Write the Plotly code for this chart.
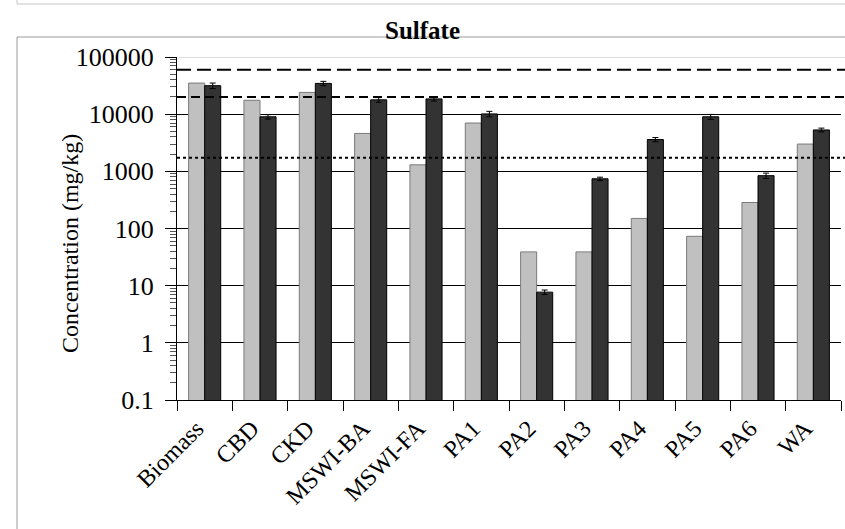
import plotly.graph_objects as go

categories = ["Biomass", "CBD", "CKD", "MSWI-BA", "MSWI-FA", "PA1",
              "PA2", "PA3", "PA4", "PA5", "PA6", "WA"]
light_values = [35000, 17500, 24000, 4600, 1300, 7000, 39, 39, 150, 73, 285, 3000]
dark_values = [31500, 9000, 34500, 17800, 18500, 10100, 7.7, 740, 3600, 9000, 840, 5300]
dark_errors = [3500, 800, 3000, 1700, 1500, 1100, 0.7, 50, 300, 900, 90, 400]
limit_values = [60000, 20000, 1730]
limit_dashes = ["14px,6px", "9px,5px", "3px,3px"]
y_tick_vals = [0.1, 1, 10, 100, 1000, 10000, 100000]
y_tick_text = ["0.1", "1", "10", "100", "1000", "10000", "100000"]

SERIF = "Liberation Serif, Times New Roman, serif"

fig = go.Figure()
fig.add_trace(go.Bar(
    x=categories, y=light_values, name="Series 1",
    marker=dict(color="#c0c0c0", line=dict(color="#7a7a7a", width=1)),
))
fig.add_trace(go.Bar(
    x=categories, y=dark_values, name="Series 2",
    marker=dict(color="#333333", line=dict(color="#000000", width=1)),
    error_y=dict(type="data", array=dark_errors, visible=True,
                 color="#000000", thickness=1, width=3),
))

# soften the top gridline (plot frame edge)
fig.add_shape(type="line", xref="paper", yref="y",
              x0=0.002, x1=1.01, y0=y_tick_vals[-1], y1=y_tick_vals[-1],
              line=dict(color="#d4d4d4", width=1.5))

for val, dash in zip(limit_values, limit_dashes):
    fig.add_shape(type="line", xref="paper", yref="y",
                  x0=0, x1=1.01, y0=val, y1=val,
                  line=dict(color="#000000", width=2, dash=dash))

# page frame (outer box and top strip)
W, H = 845, 529
L, R, T, B = 177, 4, 57, 129
pw, ph = W - L - R, H - T - B
def px(x):
    return (x - L) / pw
def py(y):
    return (H - B - y) / ph
frame = "#9a9a9a"
fig.add_shape(type="line", xref="paper", yref="paper",
              x0=px(17), x1=px(17), y0=py(37), y1=py(535),
              line=dict(color=frame, width=1))
fig.add_shape(type="line", xref="paper", yref="paper",
              x0=px(17), x1=px(850), y0=py(37), y1=py(37),
              line=dict(color=frame, width=1))
fig.add_shape(type="line", xref="paper", yref="paper",
              x0=px(17), x1=px(850), y0=py(4), y1=py(4),
              line=dict(color="#c8c8c8", width=1))
fig.add_shape(type="line", xref="paper", yref="paper",
              x0=px(17), x1=px(17), y0=py(-5), y1=py(4),
              line=dict(color="#c8c8c8", width=1))

# y-axis title placed as annotation
fig.add_annotation(text="Concentration (mg/kg)", textangle=-90,
                   xref="paper", yref="paper", x=px(70), y=py(244),
                   xanchor="center", yanchor="middle", showarrow=False,
                   font=dict(family=SERIF, size=24, color="#000000"))

fig.update_layout(
    width=W, height=H,
    margin=dict(l=L, r=R, t=T, b=B, autoexpand=False),
    paper_bgcolor="white", plot_bgcolor="white",
    showlegend=False,
    barmode="group", bargap=0.42, bargroupgap=0,
    title=dict(text="<b>Sulfate</b>", x=0.5, xanchor="center",
               xref="container", y=(H - 30) / H, yref="container",
               yanchor="middle",
               font=dict(family=SERIF, size=25, color="#000000")),
    font=dict(family=SERIF, color="#000000"),
)
fig.update_yaxes(
    type="log", range=[-1, 5],
    tickvals=y_tick_vals, ticktext=y_tick_text,
    tickfont=dict(family=SERIF, size=26, color="#000000"),
    ticks="outside", ticklen=11, tickcolor="#000000", tickwidth=1,
    ticklabelstandoff=6,
    minor=dict(ticks="outside", ticklen=6, tickcolor="#555555",
               dtick="D1", showgrid=False),
    showline=True, linecolor="#000000", linewidth=1,
    showgrid=True, gridcolor="#000000", gridwidth=1,
    zeroline=False,
)
fig.update_xaxes(
    tickangle=-45,
    tickfont=dict(family=SERIF, size=24, color="#000000"),
    ticks="outside", ticklen=10, tickcolor="#000000", tickson="boundaries",
    ticklabelstandoff=4, ticklabelshift=-8,
    showline=True, linecolor="#000000", linewidth=1,
    showgrid=False,
)

fig.write_html("out.html",
               config={"displayModeBar": False},
               post_script="document.body.style.margin='0px';"
                           "document.body.style.overflow='hidden';")
